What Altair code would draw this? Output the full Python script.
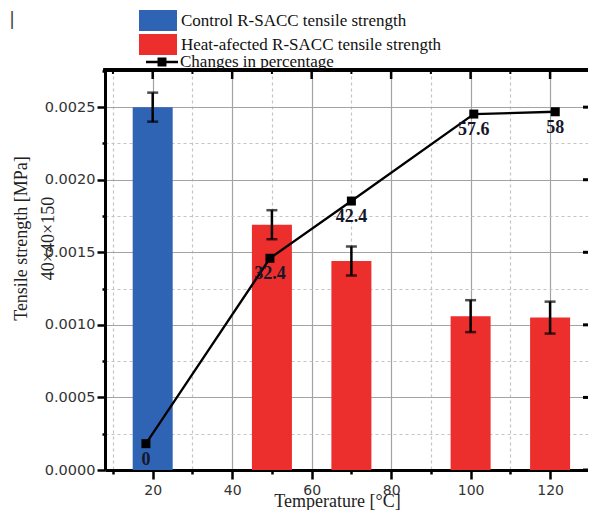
import altair as alt
import pandas as pd

# ---------------- data ----------------
bar_temp = [20, 50, 70, 100, 120]
bar_strength = [0.0025, 0.00169, 0.00144, 0.00106, 0.00105]
bar_err = [0.0001, 0.0001, 0.0001, 0.00011, 0.00011]
series_names = ["Control R-SACC tensile strength", "Heat-afected R-SACC tensile strength"]
bar_series = [series_names[0]] + [series_names[1]] * 4

pct_temp = [18.3, 49.5, 70, 100.8, 121.3]
pct_value = [0, 32.4, 42.4, 57.6, 58]
pct_label = ["0", "32.4", "42.4", "57.6", "58"]
line_name = "Changes in percentage"

x_ticks = [10, 20, 30, 40, 50, 60, 70, 80, 90, 100, 110, 120, 130]
x_major = [20, 40, 60, 80, 100, 120]
x_minor = [10, 30, 50, 70, 90, 110]
y_ticks = [0, 0.00025, 0.0005, 0.00075, 0.001, 0.00125, 0.0015, 0.00175, 0.002, 0.00225, 0.0025, 0.00275]
y_major = [0, 0.0005, 0.001, 0.0015, 0.002, 0.0025]

bdf = pd.DataFrame({
    "temp": bar_temp,
    "strength": bar_strength,
    "lo": [s - e for s, e in zip(bar_strength, bar_err)],
    "hi": [s + e for s, e in zip(bar_strength, bar_err)],
    "series": bar_series,
})
pdf = pd.DataFrame({"temp": pct_temp, "pct": pct_value, "label": pct_label,
                    "series": [line_name] * len(pct_temp)})
xt_major = pd.DataFrame({"v": x_major})
xt_minor = pd.DataFrame({"v": x_minor})
yt_major = pd.DataFrame({"v": y_major})

W, H = 483, 400
XS = alt.Scale(domain=[8, 129.54], nice=False, zero=False, padding=0)
YS = alt.Scale(domain=[0, 0.002756], nice=False, zero=False, padding=0)
PS = alt.Scale(domain=[-4.6, 65.3], nice=False, zero=False, padding=0)

BLUE = "#2f63b4"
RED = "#ec2e2d"

xmaj = "datum.value % 20 === 0"
ymaj = "round(datum.value * 4000) % 2 === 0"

x_axis = alt.Axis(
    values=x_ticks, format="d",
    labelExpr=f"{xmaj} ? datum.label : ''",
    labelFont="DejaVu Sans", labelFontSize=14, labelColor="#333",
    labelPadding=4, labelFlush=False, labelOverlap=False,
    tickSize={"condition": {"test": xmaj, "value": 9}, "value": 4},
    tickWidth=2.5, tickColor="black",
    domainWidth=3, domainColor="black",
    grid=True, gridWidth=1.2,
    gridColor={"condition": {"test": xmaj, "value": "#a3a3a3"}, "value": "#c4c4c4"},
    gridDash={"condition": {"test": xmaj, "value": []}, "value": [3, 3]},
    title="Temperature [°C]", titleFont="Liberation Serif", titleFontSize=18,
    titleFontWeight="normal", titleColor="#222",
    titleX=232, titleY=36, titleBaseline="alphabetic", titleAlign="center",
)

y_axis = alt.Axis(
    values=y_ticks, format=".4f",
    labelExpr=f"{ymaj} ? datum.label : ''",
    labelFont="DejaVu Sans", labelFontSize=14.5, labelColor="#333",
    labelPadding=2, labelOverlap=False, labelFlush=False,
    tickSize={"condition": {"test": ymaj, "value": 8}, "value": 3},
    tickWidth=2.5, tickColor="black",
    domainWidth=3, domainColor="black",
    grid=True, gridWidth=1.2,
    gridColor={"condition": {"test": ymaj, "value": "#a3a3a3"}, "value": "#c4c4c4"},
    gridDash={"condition": {"test": ymaj, "value": []}, "value": [3, 3]},
    title=["Tensile strength [MPa]", "40×40×150"],
    titleFont="Liberation Serif", titleFontSize=18, titleFontWeight="normal",
    titleColor="#222", titleAngle=270, titleX=-93, titleY=168,
    titleBaseline="top", titleAlign="center", titleLineHeight=27,
)

rect_path = "M-1,-0.5526H1V0.5526H-1Z"
line_path = "M-1,-0.078H1V0.078H-1Z M-0.28,-0.28H0.28V0.28H-0.28Z"

leg_bars = alt.Legend(
    orient="none", legendX=34, legendY=-60, title=None, padding=0,
    symbolType=rect_path, symbolSize=1444, clipHeight=21, rowPadding=3,
    symbolStrokeWidth=0, symbolOpacity=1,
    labelFont="Liberation Serif", labelFontSize=17, labelColor="#111",
    labelOffset=4, labelLimit=500,
)
leg_line = alt.Legend(
    orient="none", legendX=41, legendY=-14, title=None, padding=0,
    symbolType=line_path, symbolSize=1024, clipHeight=12,
    symbolFillColor="black", symbolStrokeColor="black", symbolStrokeWidth=0,
    symbolOpacity=1,
    labelFont="Liberation Serif", labelFontSize=17, labelColor="#111",
    labelOffset=2, labelLimit=500,
)

NOX = dict(scale=XS, axis=None)

bars = alt.Chart(bdf).mark_bar(size=40).encode(
    x=alt.X("temp:Q", scale=XS, axis=x_axis),
    y=alt.Y("strength:Q", scale=YS, axis=y_axis),
    color=alt.Color("series:N", scale=alt.Scale(domain=series_names, range=[BLUE, RED]),
                    legend=leg_bars),
)

errs = alt.Chart(bdf).mark_errorbar(ticks=True, size=11, thickness=2.5, color="black").encode(
    x=alt.X("temp:Q", **NOX),
    y=alt.Y("lo:Q", scale=YS, axis=None, title=None),
    y2="hi:Q",
)

line = alt.Chart(pdf).mark_line(strokeWidth=2.3).encode(
    x=alt.X("temp:Q", **NOX),
    y=alt.Y("pct:Q", scale=PS, axis=None),
    stroke=alt.Stroke("series:N", scale=alt.Scale(domain=[line_name], range=["black"]),
                      legend=leg_line),
)

squares = alt.Chart(pdf).mark_square(size=81, color="black", opacity=1).encode(
    x=alt.X("temp:Q", **NOX),
    y=alt.Y("pct:Q", scale=PS, axis=None),
)

labels = alt.Chart(pdf).mark_text(
    dy=16, font="Liberation Serif", fontSize=18, fontWeight="bold", color="#17172a"
).encode(
    x=alt.X("temp:Q", **NOX),
    y=alt.Y("pct:Q", scale=PS, axis=None),
    text="label:N",
)

# frame along the top, with inward ticks, and inward ticks along the right edge
top_line = alt.Chart(xt_major).mark_rule(color="black", strokeWidth=3).encode(
    x=alt.value(-1.5), x2=alt.value(W), y=alt.value(0)
)
top_major = alt.Chart(xt_major).mark_rule(color="black", strokeWidth=2.5).encode(
    x=alt.X("v:Q", **NOX), y=alt.value(0), y2=alt.value(9)
)
top_minor = alt.Chart(xt_minor).mark_rule(color="black", strokeWidth=2).encode(
    x=alt.X("v:Q", **NOX), y=alt.value(0), y2=alt.value(4)
)
right_major = alt.Chart(yt_major).mark_rule(color="black", strokeWidth=3).encode(
    y=alt.Y("v:Q", scale=YS, axis=None), x=alt.value(W - 5), x2=alt.value(W)
)

mark_df = pd.DataFrame({"t": ["|"]})
corner = alt.Chart(mark_df).mark_text(
    fontSize=18, color="#444", font="DejaVu Sans"
).encode(text="t:N", x=alt.value(-93), y=alt.value(-50))

chart = alt.layer(
    bars, errs, line, squares, labels, top_line, top_major, top_minor, right_major, corner
).resolve_scale(
    x="independent", y="independent"
).properties(
    width=W, height=H,
    autosize=alt.AutoSizeParams(type="none"),
    padding={"left": 97, "top": 62, "right": 0, "bottom": 40},
).configure_view(stroke=None)

chart.save("out.html", embed_options={"renderer": "svg", "actions": False})
